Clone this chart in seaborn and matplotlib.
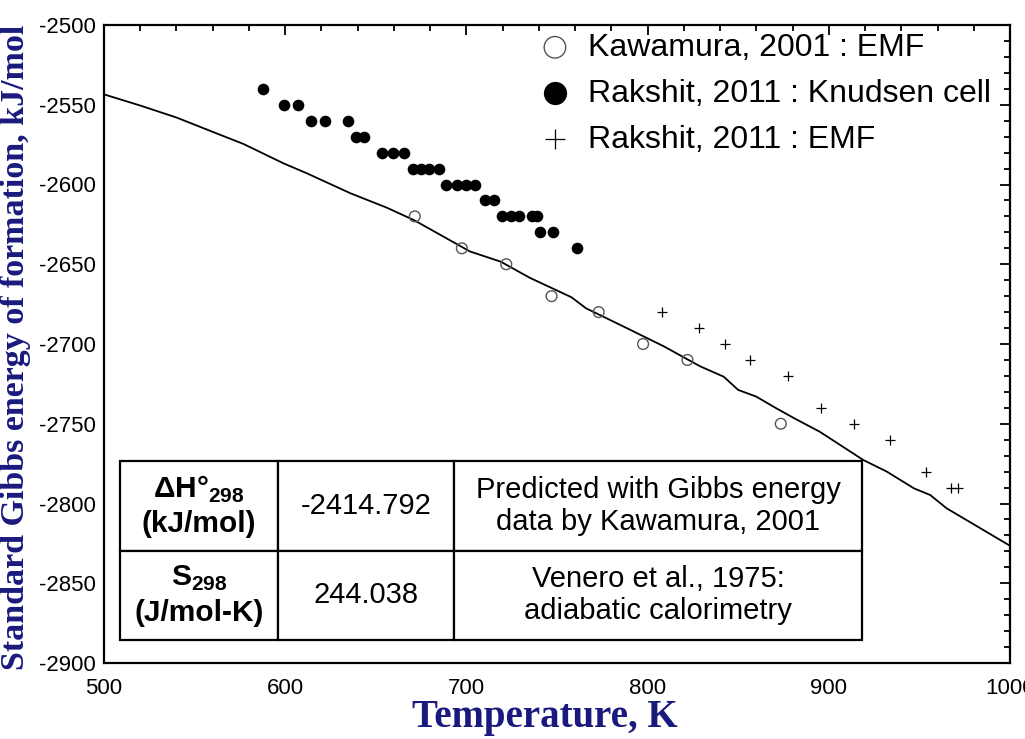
import matplotlib
matplotlib.use("Agg")
import matplotlib.pyplot as plt
from matplotlib.ticker import MultipleLocator
import seaborn as sns

# ---- data ----
knudsen_T = [588, 599.5, 607, 614.5, 622, 634.5, 639, 643.5, 653.5, 659.5, 665.5,
             670.5, 675, 679.5, 685, 689, 695, 700, 704.5, 710.5, 715, 719.5, 724.5,
             729, 736, 739, 740.5, 748, 761]
knudsen_G = [-2540, -2550, -2550, -2560, -2560, -2560, -2570, -2570, -2580, -2580, -2580,
             -2590, -2590, -2590, -2590, -2600, -2600, -2600, -2600, -2610, -2610, -2620,
             -2620, -2620, -2620, -2620, -2630, -2630, -2640]

kawamura_T = [671.5, 697.5, 722, 747, 773, 797.5, 822, 873.5]
kawamura_G = [-2620, -2640, -2650, -2670, -2680, -2700, -2710, -2750]

emf_T = [808, 828.5, 842.5, 856.5, 877.5, 895.5, 914, 933.5, 953.5, 967.5, 971.5]
emf_G = [-2680, -2690, -2700, -2710, -2720, -2740, -2750, -2760, -2780, -2790, -2790]

pred_T = [500, 520, 540, 560, 577, 599, 612, 636, 656, 671, 680, 702, 719, 735, 758,
          766, 787, 809, 829, 842, 850, 860, 871, 881, 895, 919, 932, 947, 956, 965, 1000]
pred_G = [-2543.5, -2550.5, -2558, -2567, -2574.6, -2586.7, -2593, -2605.5, -2614.5,
          -2622.3, -2628, -2642, -2648.4, -2658.5, -2670.7, -2677.6, -2689.2, -2701.5,
          -2714, -2720.5, -2728.8, -2733, -2740.3, -2746.6, -2755, -2772.7, -2780,
          -2790.5, -2794.7, -2803, -2826.5]

legend_labels = ["Kawamura, 2001 : EMF", "Rakshit, 2011 : Knudsen cell", "Rakshit, 2011 : EMF"]

table_rows = [
    ["ΔH°$_\\mathbf{298}$\n(kJ/mol)", "-2414.792", "Predicted with Gibbs energy\ndata by Kawamura, 2001"],
    ["S$_\\mathbf{298}$\n(J/mol-K)", "244.038", "Venero et al., 1975:\nadiabatic calorimetry"],
]

x_label = "Temperature, K"
y_label = "Standard Gibbs energy of formation, kJ/mol"

# ---- style ----
sns.set_style("white")
plt.rcParams['font.family'] = ['Liberation Sans', 'DejaVu Sans']
plt.rcParams['axes.unicode_minus'] = False
plt.rcParams['mathtext.fontset'] = 'custom'
plt.rcParams['mathtext.rm'] = 'Liberation Sans'
plt.rcParams['mathtext.bf'] = 'Liberation Sans:bold'
for k in ['text.color', 'axes.labelcolor', 'xtick.color', 'ytick.color', 'axes.edgecolor']:
    plt.rcParams[k] = 'black'

fig = plt.figure(figsize=(10.25, 7.39), dpi=100)
ax = fig.add_axes([104 / 1025, 1 - 663 / 739, 906 / 1025, 638 / 739])

sns.lineplot(x=pred_T, y=pred_G, ax=ax, color='black', linewidth=1.3,
             estimator=None, sort=True, zorder=2)
sns.scatterplot(x=kawamura_T, y=kawamura_G, ax=ax, marker='o', s=60,
                facecolor='none', edgecolor='#555555', linewidth=1.0,
                label=legend_labels[0], zorder=3)
sns.scatterplot(x=knudsen_T, y=knudsen_G, ax=ax, marker='o', s=70,
                color='black', linewidth=0, label=legend_labels[1], zorder=3)
sns.scatterplot(x=emf_T, y=emf_G, ax=ax, marker='+', s=55,
                color='black', linewidth=0.9, label=legend_labels[2], zorder=3)

ax.set_xlim(500, 1000)
ax.set_ylim(-2900, -2500)
ax.xaxis.set_major_locator(MultipleLocator(100))
ax.xaxis.set_minor_locator(MultipleLocator(20))
ax.yaxis.set_major_locator(MultipleLocator(50))
ax.yaxis.set_minor_locator(MultipleLocator(10))
ax.tick_params(which='both', direction='in', top=True, right=True,
               width=1.3, colors='black', labelsize=16)
ax.tick_params(which='major', length=7, pad=6)
ax.tick_params(axis='x', which='major', pad=11)
ax.tick_params(which='minor', length=4)
for s in ax.spines.values():
    s.set_linewidth(1.6)
    s.set_color('black')

navy = '#1a1a7e'
ax.set_xlabel(x_label, fontsize=28, fontweight='bold', color=navy,
              family=['Liberation Serif', 'DejaVu Serif'])
ax.xaxis.set_label_coords(0.487, -0.057)
ax.set_ylabel(y_label, fontsize=24.5, fontweight='bold', color=navy,
              family=['Liberation Serif', 'DejaVu Serif'])
ax.yaxis.set_label_coords(-0.0805, 0.495)

leg = ax.legend(loc='upper left', bbox_to_anchor=(0.466, 1.008), frameon=False,
                fontsize=23, markerscale=2.0, handlelength=1.0,
                handletextpad=0.55, labelspacing=0.5, borderaxespad=0.0)

# ---- table ----
tbl = ax.table(cellText=table_rows, cellLoc='center',
               colWidths=[158 / 742, 176 / 742, 408 / 742],
               bbox=[16 / 906, 23 / 638, 742 / 906, 179 / 638], zorder=5)
tbl.auto_set_font_size(False)
for (r, c), cell in tbl.get_celld().items():
    cell.set_linewidth(1.6)
    cell.set_edgecolor('black')
    cell.set_facecolor('white')
    t = cell.get_text()
    t.set_color('black')
    t.set_fontsize(21)
    t.set_linespacing(1.2)
    if c == 0:
        t.set_fontweight('bold')
        t.set_fontsize(21.5)
        t.set_linespacing(1.25)

fig.savefig("out.png", dpi=100)
